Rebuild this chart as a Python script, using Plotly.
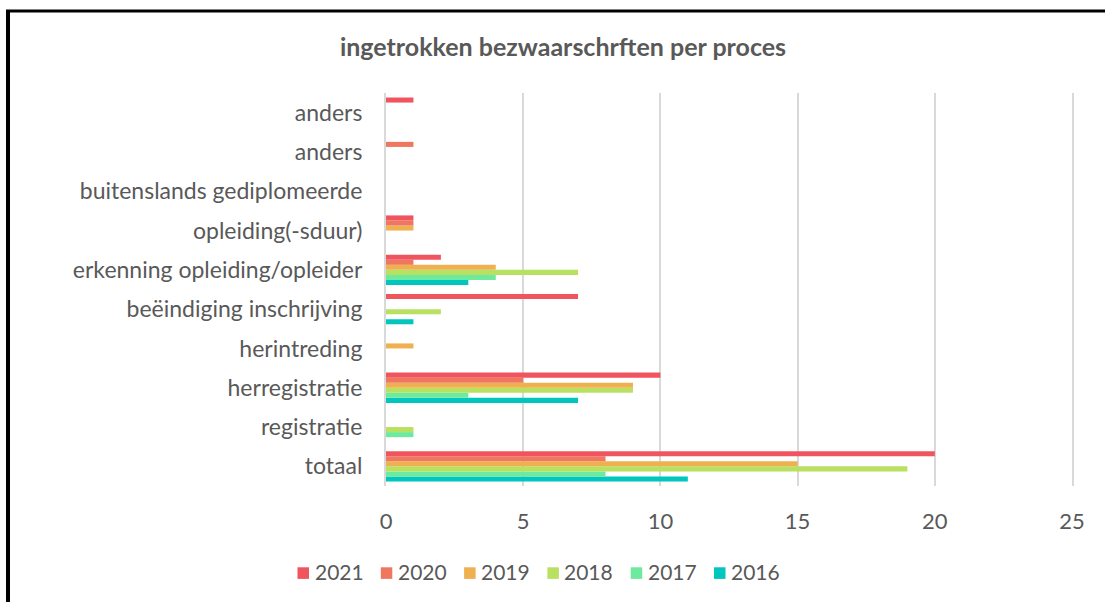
import plotly.graph_objects as go

categories = ["totaal", "registratie", "herregistratie", "herintreding",
              "beëindiging inschrijving", "erkenning opleiding/opleider",
              "opleiding(-sduur)", "buitenslands gediplomeerde", "anders", "anders"]

years = ["2016", "2017", "2018", "2019", "2020", "2021"]
colors = ["#00C6BE", "#6EEA9E", "#B8E061", "#EFB050", "#F0775F", "#F0545F"]

v2016 = [11, 0, 7, 0, 1, 3, 0, 0, 0, 0]
v2017 = [8, 1, 3, 0, 0, 4, 0, 0, 0, 0]
v2018 = [19, 1, 9, 0, 2, 7, 0, 0, 0, 0]
v2019 = [15, 0, 9, 1, 0, 4, 1, 0, 0, 0]
v2020 = [8, 0, 5, 0, 0, 1, 1, 0, 1, 0]
v2021 = [20, 0, 10, 0, 7, 2, 1, 0, 0, 1]

series = [v2016, v2017, v2018, v2019, v2020, v2021]
positions = list(range(len(categories)))

fig = go.Figure()
for yr, col, vals in zip(years, colors, series):
    fig.add_trace(go.Bar(
        y=positions, x=vals, name=yr, orientation="h",
        marker=dict(color=col, line=dict(width=0)),
        showlegend=False,
    ))

W, H = 1105, 602
L, R, T, B = 386, 1072, 93.4, 486

def px_x(p):
    return (p - L) / (R - L)

def px_y(p):
    return (B - p) / (B - T)

fig.update_layout(
    width=W, height=H,
    margin=dict(l=L, r=W - R, t=T, b=H - B, pad=0, autoexpand=False),
    paper_bgcolor="white", plot_bgcolor="white",
    barmode="group", bargap=0.23, bargroupgap=0,
    font=dict(family="Lato, 'Open Sans', sans-serif", color="#595959", size=20),
    title=dict(text="<b>ingetrokken bezwaarschrften per proces</b>",
               x=563 / W, y=1 - 47 / H, xanchor="center", yanchor="middle",
               font=dict(size=25, color="#595959")),
    xaxis=dict(range=[0, 25], dtick=5, showgrid=True, gridcolor="#D9D9D9",
               gridwidth=2, zeroline=False, showline=False,
               ticks="", ticklabelstandoff=20, tickfont=dict(size=22)),
    yaxis=dict(range=[-0.5, 9.5], tickmode="array", tickvals=positions,
               ticktext=categories, showgrid=False, zeroline=False,
               showline=True, mirror=True, linecolor="#D9D9D9", linewidth=2,
               ticks="", ticklabelstandoff=17,
               tickfont=dict(size=23)),
    showlegend=False,
)

# manual legend (2021 first, as in the reference)
leg_x0, leg_step, leg_y = 297.5, 83.3, 573
for i, (yr, col) in enumerate(zip(years[::-1], colors[::-1])):
    x0 = leg_x0 + i * leg_step
    fig.add_shape(type="rect", xref="paper", yref="paper",
                  x0=px_x(x0), x1=px_x(x0 + 11.5), y0=px_y(leg_y - 5.8), y1=px_y(leg_y + 5.8),
                  fillcolor=col, line=dict(width=0))
    fig.add_annotation(text=yr, xref="paper", yref="paper",
                       x=px_x(x0 + 15), y=px_y(leg_y - 1.5), xanchor="left", yanchor="middle",
                       showarrow=False, font=dict(size=21, color="#595959"))

fig.add_shape(type="line", xref="paper", yref="paper",
              x0=px_x(8), x1=px_x(8), y0=px_y(11), y1=px_y(620),
              line=dict(color="black", width=4))
fig.add_shape(type="line", xref="paper", yref="paper",
              x0=px_x(6), x1=px_x(1120), y0=px_y(11.5), y1=px_y(11.5),
              line=dict(color="black", width=3))

fig.write_html("out.html", config={"displayModeBar": False},
               post_script="document.body.style.margin='0px';document.body.style.overflow='hidden';")
